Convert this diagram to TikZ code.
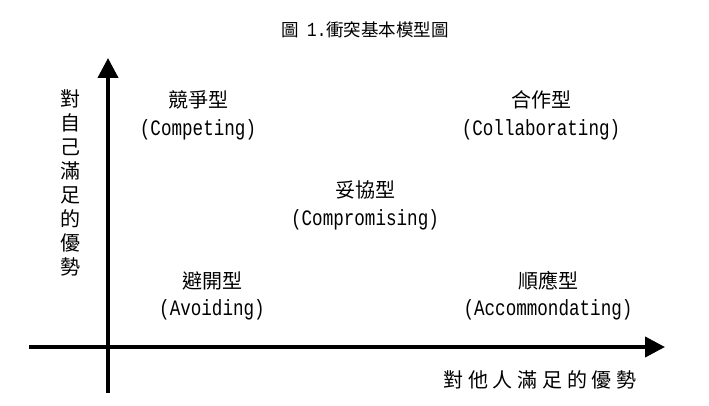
\documentclass[tikz,border=0pt]{standalone}
\usepackage{fontspec}
\usetikzlibrary{arrows.meta}
\newfontfamily\cjk{Noto Sans CJK TC}
\newfontfamily\latinmono[FakeStretch=0.8]{Liberation Mono}
\tikzset{
  axis/.style={line width=4pt, -{Triangle[length=20pt,width=20pt]}},
  cjklabel/.style={font=\cjk\fontsize{20pt}{22pt}\selectfont, inner sep=0pt},
  enlabel/.style={font=\latinmono\fontsize{22pt}{24pt}\selectfont, inner sep=0pt},
  titlelabel/.style={font=\cjk\fontsize{17.5pt}{19pt}\selectfont, inner sep=0pt},
}
\begin{document}
\begin{tikzpicture}[x=1pt,y=-1pt]
\useasboundingbox (0,0) rectangle (709,406);
% axes
\coordinate (vbot) at (108,393);
\coordinate (vtop) at (108,58);
\coordinate (hleft) at (29,347);
\coordinate (hright) at (665,347);
\draw[axis] (vbot) -- (vtop);
\draw[axis] (hleft) -- (hright);
% title
\node[titlelabel] (title) at (365,30) {圖\hspace{8.5pt}{\latinmono\fontsize{20pt}{20pt}\selectfont 1.}衝突基本模型圖};
% quadrants
\node[cjklabel] (comp) at (198,100) {競爭型};
\node[enlabel] (compE) at (198,130) {(Competing)};
\node[cjklabel] (coll) at (541,100) {合作型};
\node[enlabel] (collE) at (541,130) {(Collaborating)};
\node[cjklabel] (compr) at (365,190) {妥協型};
\node[enlabel] (comprE) at (365,220) {(Compromising)};
\node[cjklabel] (avoid) at (212,281) {避開型};
\node[enlabel] (avoidE) at (212,310) {(Avoiding)};
\node[cjklabel] (acc) at (548,281) {順應型};
\node[enlabel] (accE) at (548,310) {(Accommondating)};
% axis labels
\node[cjklabel, align=center] (ylab) at (70,183) {對\\[2pt]自\\[2pt]己\\[2pt]滿\\[2pt]足\\[2pt]的\\[2pt]優\\[2pt]勢};
\node[cjklabel] (xlab) at (540,380) {對\hspace{4.7pt}他\hspace{4.7pt}人\hspace{4.7pt}滿\hspace{4.7pt}足\hspace{4.7pt}的\hspace{4.7pt}優\hspace{4.7pt}勢};
\end{tikzpicture}
\end{document}
